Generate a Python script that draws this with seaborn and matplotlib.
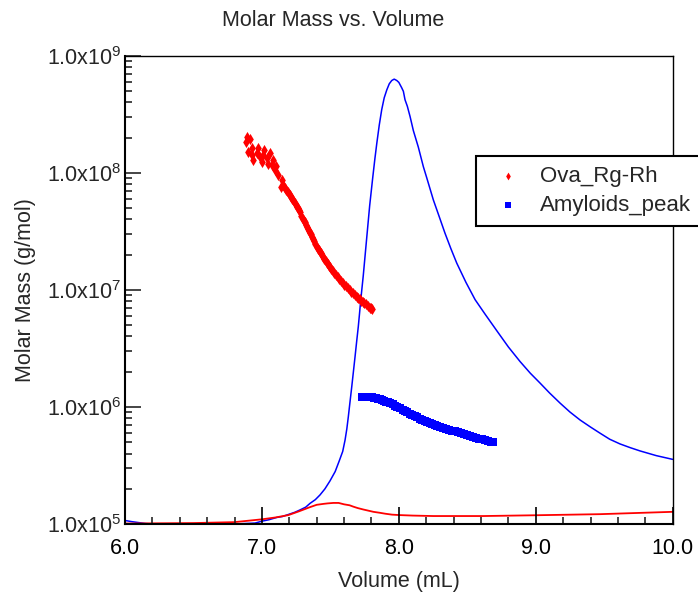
import matplotlib
matplotlib.use("Agg")
import matplotlib.pyplot as plt
import matplotlib.ticker as mticker
import pandas as pd
import seaborn as sns

# ---------------- data ----------------
ova_volume = [6.884, 6.891, 6.913, 6.901, 6.925, 6.928, 6.937, 6.962, 6.971, 6.986,
              6.999, 7.010, 7.015, 7.035, 7.047, 7.059, 7.072, 7.081, 7.096, 7.103,
              7.120, 7.145, 7.137, 7.156, 7.166, 7.176, 7.187, 7.198, 7.206, 7.213,
              7.220, 7.227, 7.238, 7.249, 7.256, 7.264, 7.270, 7.278, 7.289, 7.300,
              7.308, 7.315, 7.320, 7.327, 7.335, 7.344, 7.351, 7.359, 7.366, 7.373,
              7.381, 7.390, 7.400, 7.408, 7.417, 7.424, 7.432, 7.439, 7.446, 7.457,
              7.468, 7.475, 7.483, 7.490, 7.497, 7.508, 7.519, 7.530, 7.541, 7.552,
              7.563, 7.578, 7.592, 7.603, 7.614, 7.629, 7.643, 7.654, 7.665, 7.679,
              7.692, 7.704, 7.716, 7.727, 7.738, 7.749, 7.760, 7.775, 7.789, 7.797,
              7.804]
ova_molar_mass = [1.84e8, 2.02e8, 1.93e8, 1.51e8, 1.62e8, 1.42e8, 1.28e8, 1.47e8, 1.63e8, 1.37e8,
                  1.24e8, 1.42e8, 1.56e8, 1.33e8, 1.20e8, 1.47e8, 1.16e8, 1.29e8, 1.05e8, 1.14e8,
                  9.5e7, 8.7e7, 7.6e7, 7.9e7, 7.4e7, 7.1e7, 6.85e7, 6.6e7, 6.4e7, 6.2e7,
                  6.0e7, 5.85e7, 5.55e7, 5.3e7, 5.15e7, 4.99e7, 4.8e7, 4.6e7, 4.3e7, 4.0e7,
                  3.9e7, 3.79e7, 3.6e7, 3.45e7, 3.3e7, 3.18e7, 3.08e7, 2.99e7, 2.8e7, 2.7e7,
                  2.61e7, 2.48e7, 2.33e7, 2.25e7, 2.18e7, 2.12e7, 2.06e7, 1.97e7, 1.9e7, 1.83e7,
                  1.76e7, 1.71e7, 1.66e7, 1.61e7, 1.57e7, 1.51e7, 1.45e7, 1.39e7, 1.34e7, 1.28e7,
                  1.23e7, 1.18e7, 1.14e7, 1.11e7, 1.08e7, 1.03e7, 9.9e6, 9.65e6, 9.4e6, 9.0e6,
                  8.7e6, 8.5e6, 8.3e6, 8.05e6, 7.85e6, 7.7e6, 7.55e6, 7.25e6, 7.0e6, 6.95e6,
                  6.85e6]

amy_volume = [7.731, 7.745, 7.760, 7.775, 7.790, 7.805, 7.819, 7.833, 7.848, 7.862,
              7.877, 7.891, 7.906, 7.921, 7.936, 7.954, 7.972, 7.990, 8.009, 8.027,
              8.045, 8.063, 8.081, 8.099, 8.118, 8.136, 8.154, 8.172, 8.191, 8.209,
              8.227, 8.245, 8.264, 8.282, 8.301, 8.323, 8.345, 8.367, 8.389, 8.410,
              8.432, 8.454, 8.476, 8.498, 8.520, 8.542, 8.564, 8.586, 8.608, 8.630,
              8.652, 8.670, 8.688]
amy_molar_mass = [1.222e6, 1.221e6, 1.219e6, 1.215e6, 1.211e6, 1.204e6, 1.197e6, 1.186e6, 1.175e6, 1.158e6,
                  1.140e6, 1.124e6, 1.107e6, 1.092e6, 1.076e6, 1.051e6, 1.026e6, 1.000e6, 9.75e5, 9.47e5,
                  9.20e5, 8.97e5, 8.75e5, 8.54e5, 8.34e5, 8.13e5, 7.93e5, 7.76e5, 7.59e5, 7.44e5,
                  7.29e5, 7.15e5, 7.01e5, 6.88e5, 6.75e5, 6.62e5, 6.50e5, 6.39e5, 6.28e5, 6.18e5,
                  6.08e5, 5.97e5, 5.86e5, 5.76e5, 5.66e5, 5.56e5, 5.46e5, 5.37e5, 5.28e5, 5.19e5,
                  5.11e5, 5.04e5, 4.97e5]

# detector traces (normalised signal, hidden linear axis)
blue_trace_volume = [6.0, 6.05, 6.1, 6.15, 6.2, 6.5, 6.8, 6.95, 7.0, 7.05, 7.108, 7.15,
                     7.2, 7.24, 7.278, 7.32, 7.351, 7.39, 7.424, 7.46, 7.497, 7.535,
                     7.565, 7.59, 7.607, 7.62, 7.631, 7.643, 7.656, 7.668, 7.680, 7.692,
                     7.704, 7.713, 7.722, 7.74, 7.765, 7.787, 7.809, 7.825, 7.839, 7.857,
                     7.875, 7.893, 7.912, 7.93, 7.948, 7.966, 7.985, 8.0, 8.009, 8.02,
                     8.033, 8.045, 8.062, 8.082, 8.106, 8.142, 8.179, 8.204, 8.252, 8.3,
                     8.337, 8.38, 8.423, 8.49, 8.557, 8.63, 8.717, 8.8, 8.885, 8.96,
                     9.031, 9.1, 9.178, 9.25, 9.324, 9.4, 9.469, 9.54, 9.615, 9.69,
                     9.762, 9.88, 10.0]
blue_trace_signal = [0.0075, 0.005, 0.003, 0.001, 0.0, 0.0, 0.0, 0.002, 0.006, 0.009, 0.014, 0.016,
                     0.021, 0.025, 0.030, 0.036, 0.044, 0.052, 0.062, 0.075, 0.092, 0.112,
                     0.135, 0.155, 0.179, 0.203, 0.229, 0.260, 0.293, 0.325, 0.357, 0.390,
                     0.422, 0.450, 0.479, 0.530, 0.610, 0.680, 0.739, 0.780, 0.813, 0.852,
                     0.885, 0.910, 0.927, 0.940, 0.947, 0.950, 0.947, 0.943, 0.938, 0.932,
                     0.924, 0.906, 0.892, 0.870, 0.840, 0.805, 0.763, 0.739, 0.692, 0.652,
                     0.621, 0.588, 0.557, 0.516, 0.479, 0.448, 0.412, 0.378, 0.347, 0.322,
                     0.301, 0.280, 0.258, 0.239, 0.222, 0.207, 0.194, 0.181, 0.171, 0.163,
                     0.156, 0.146, 0.138]

red_trace_volume = [6.0, 6.5, 6.8, 7.0, 7.1, 7.193, 7.27, 7.351, 7.4, 7.45, 7.48, 7.522,
                    7.56, 7.6, 7.64, 7.668, 7.70, 7.74, 7.814, 7.86, 7.9, 7.95, 8.009,
                    8.1, 8.252, 8.617, 8.982, 9.47, 10.0]
red_trace_signal = [0.001, 0.002, 0.004, 0.010, 0.014, 0.019, 0.027, 0.036, 0.041, 0.043, 0.044, 0.045,
                    0.045, 0.042, 0.040, 0.037, 0.034, 0.031, 0.026, 0.024, 0.022, 0.020, 0.019,
                    0.018, 0.017, 0.017, 0.0186, 0.021, 0.026]

x_ticks = [6.0, 7.0, 8.0, 9.0, 10.0]
x_tick_labels = ["6.0", "7.0", "8.0", "9.0", "10.0"]
y_ticks = [1e5, 1e6, 1e7, 1e8, 1e9]
y_tick_labels = [r"1.0x10$^{5}$", r"1.0x10$^{6}$", r"1.0x10$^{7}$", r"1.0x10$^{8}$", r"1.0x10$^{9}$"]
series_names = ["Ova_Rg-Rh", "Amyloids_peak"]

# ---------------- style ----------------
sns.set_style("white")
plt.rcParams["font.family"] = ["Liberation Sans", "DejaVu Sans"]
plt.rcParams["mathtext.fontset"] = "custom"
plt.rcParams["mathtext.rm"] = "Liberation Sans"
plt.rcParams["mathtext.it"] = "Liberation Sans"
plt.rcParams["mathtext.default"] = "regular"

FS = 15.5
W, H = 698, 593
fig = plt.figure(figsize=(W / 100, H / 100), dpi=100)
left, right, top, bottom = 125, 672.7, 55.7, 524
rect = [left / W, 1 - bottom / H, (right - left) / W, (bottom - top) / H]
ax2 = fig.add_axes(rect)
ax = fig.add_axes(rect, sharex=ax2)

ova_df = pd.DataFrame({"v": ova_volume, "m": ova_molar_mass})
amy_df = pd.DataFrame({"v": amy_volume, "m": amy_molar_mass})
blue_df = pd.DataFrame({"v": blue_trace_volume, "s": blue_trace_signal})
red_df = pd.DataFrame({"v": red_trace_volume, "s": red_trace_signal})

sns.lineplot(data=blue_df, x="v", y="s", ax=ax2, color="#0000ff", linewidth=1.1,
             estimator=None, sort=False)
sns.lineplot(data=red_df, x="v", y="s", ax=ax2, color="#ff0000", linewidth=1.3,
             estimator=None, sort=False)
ax2.set_ylim(0, 1)
ax2.set_xlim(6.0, 10.0)
ax2.axis("off")

ax.patch.set_visible(False)
sns.scatterplot(data=ova_df, x="v", y="m", ax=ax, color="#ff0000", marker="d", s=32,
                linewidth=0, label=series_names[0])
sns.scatterplot(data=amy_df, x="v", y="m", ax=ax, color="#0000ff", marker="s", s=32,
                linewidth=0, label=series_names[1])

ax.set_yscale("log")
ax.set_ylim(1e5, 1e9)
ax.set_xlim(6.0, 10.0)
ax.set_xticks(x_ticks)
ax.set_xticklabels(x_tick_labels)
ax.xaxis.set_minor_locator(mticker.MultipleLocator(0.2))
ax.set_yticks(y_ticks)
ax.set_yticklabels(y_tick_labels)
ax.yaxis.set_minor_locator(mticker.LogLocator(base=10, subs=[2, 3, 4, 5, 6, 7, 8, 9], numticks=20))
ax.yaxis.set_minor_formatter(mticker.NullFormatter())

ax.tick_params(axis="x", which="major", direction="in", length=12, width=1.2,
               labelsize=FS, pad=10, top=False, bottom=True, colors="black")
ax.tick_params(axis="x", which="minor", direction="in", length=5, width=1.2,
               top=False, bottom=True)
ax.tick_params(axis="y", which="major", direction="in", length=11.5, width=1.2,
               labelsize=FS, pad=2.5, left=True, right=False)
ax.tick_params(axis="y", which="minor", direction="in", length=5, width=1.2,
               left=True, right=False)

for side in ["left", "bottom"]:
    ax.spines[side].set_linewidth(1.5)
    ax.spines[side].set_color("black")
for side in ["top", "right"]:
    ax.spines[side].set_linewidth(1.0)
    ax.spines[side].set_color("black")
    ax.spines[side].set_visible(True)

ax.set_xlabel("Volume (mL)", fontsize=FS, labelpad=9)
ax.set_ylabel("Molar Mass (g/mol)", fontsize=FS, labelpad=8)

fig.text(333 / W, 1 - 21 / H, "Molar Mass vs. Volume", fontsize=FS,
         ha="center", va="center")

leg = ax.legend(loc="upper left", bbox_to_anchor=(476 / W, 1 - 155.7 / H),
                bbox_transform=fig.transFigure, fontsize=16, frameon=True,
                fancybox=False, framealpha=1, edgecolor="black",
                borderpad=0.45, borderaxespad=0, handlelength=2.0, handletextpad=0.45,
                labelspacing=0.38, markerscale=0.7)
leg.get_frame().set_linewidth(1.5)
leg.set_zorder(10)

fig.savefig("out.png", dpi=100)
